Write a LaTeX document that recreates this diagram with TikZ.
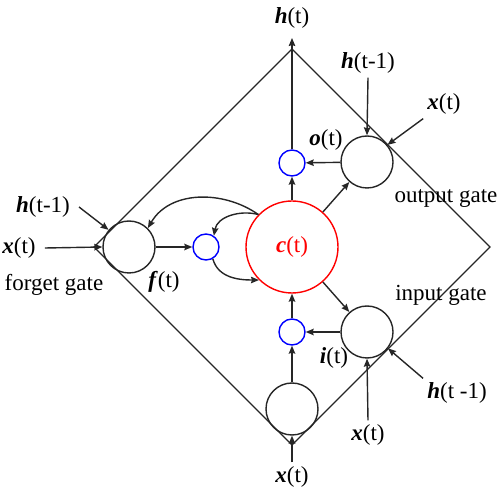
\documentclass[tikz,border=0pt]{standalone}
\usepackage{fontspec}
\setmainfont{Liberation Serif}
\usetikzlibrary{arrows.meta}
\newcommand{\bvar}[1]{\textbf{\textit{#1}}}

\begin{document}
\begin{tikzpicture}[
    x=1pt, y=1pt,
    font=\fontsize{23}{27}\selectfont,
    gate/.style     = {circle, draw=black!85, line width=1.4pt,
                       minimum size=52pt, inner sep=0pt},
    mult/.style     = {circle, draw=blue, line width=1.4pt,
                       minimum size=26pt, inner sep=0pt},
    cellnode/.style = {circle, draw=red, line width=1.4pt,
                       minimum size=92pt, inner sep=0pt, text=red},
    lbl/.style      = {inner sep=4pt},
    flow/.style     = {-{Stealth[length=8pt, width=6.5pt, inset=1pt]},
                       line width=1.4pt, black!85},
]

% fixed canvas, same size as the reference
\useasboundingbox (0,0) rectangle (498,498);

% --- the frame -----------------------------------------------------------
\coordinate (dtop)   at (292,449);
\coordinate (dright) at (490,251);
\coordinate (dbot)   at (292,53);
\coordinate (dleft)  at (94,251);
\coordinate (htip)   at (292,460);
\draw[line width=1.4pt, black!85] (dtop) -- (dright) -- (dbot) -- (dleft) -- cycle;

% --- cell, gates and products -------------------------------------------
\node[cellnode] (cell)  at (292,251) {\bvar{c}(t)};
\node[gate]     (fgate) at (129,251) {};
\node[mult]     (fmul)  at (206,251) {};
\node[gate]     (ogate) at (367,336) {};
\node[mult]     (omul)  at (292,335) {};
\node[gate]     (igate) at (367,166) {};
\node[mult]     (imul)  at (292,166) {};
\node[gate]     (bgate) at (292,89)  {};

% --- labels --------------------------------------------------------------
\node[lbl] (hout)  at (292,480) {\bvar{h}(t)};
\node[lbl] (ho)    at (368,435) {\bvar{h}(t-1)};
\node[lbl] (xo)    at (444,394) {\bvar{x}(t)};
\node[lbl] (olbl)  at (326,358) {\bvar{o}(t)};
\node[lbl] (ogtxt) at (446,299) {output gate};
\node[lbl] (hf)    at (43,291)  {\bvar{h}(t-1)};
\node[lbl] (xf)    at (19,250)  {\bvar{x}(t)};
\node[lbl] (fgtxt) at (54,213)  {forget gate};
\node[lbl] (flbl)  at (164,216) {\bvar{f}(t)};
\node[lbl] (igtxt) at (441,203) {input gate};
\node[lbl] (ilbl)  at (334,140) {\bvar{i}(t)};
\node[lbl] (hi)    at (457,105) {\bvar{h}(t -1)};
\node[lbl] (xi)    at (368,63)  {\bvar{x}(t)};
\node[lbl] (xb)    at (292,21)  {\bvar{x}(t)};

% --- inputs into the gates ----------------------------------------------
\draw[flow] (ho.south) -- (ogate.north);
\draw[flow] (xo.south west) -- (ogate.40);
\draw[flow] ([xshift=5pt]hf.east) -- (fgate.140);
\draw[flow] ([xshift=5pt]xf.east) -- (fgate.west);
\draw[flow] (hi.north west) -- (igate.-38);
\draw[flow] (xi.north) -- (igate.south);
\draw[flow] (xb.north) -- (bgate.south);

% --- inside the frame ---------------------------------------------------
\draw[flow] (fgate) -- (fmul);
\draw[flow] (ogate) -- (omul);
\draw[flow] (igate) -- (imul);
\draw[flow] (bgate) -- (imul);
\draw[flow] (imul) -- (cell);
\draw[flow] (cell) -- (omul);
\draw[flow] (cell) -- (ogate);
\draw[flow] (cell) -- (igate);
\draw[flow] (omul) -- (htip);

% --- recurrent loops ----------------------------------------------------
\draw[flow] (cell.136) to[out=145, in=60] (fgate.45);
\draw[flow] (cell.136) to[out=165, in=80] (fmul.55);
\draw[flow] (fmul.-60) to[out=-75, in=180] (cell.-135);

\end{tikzpicture}
\end{document}
